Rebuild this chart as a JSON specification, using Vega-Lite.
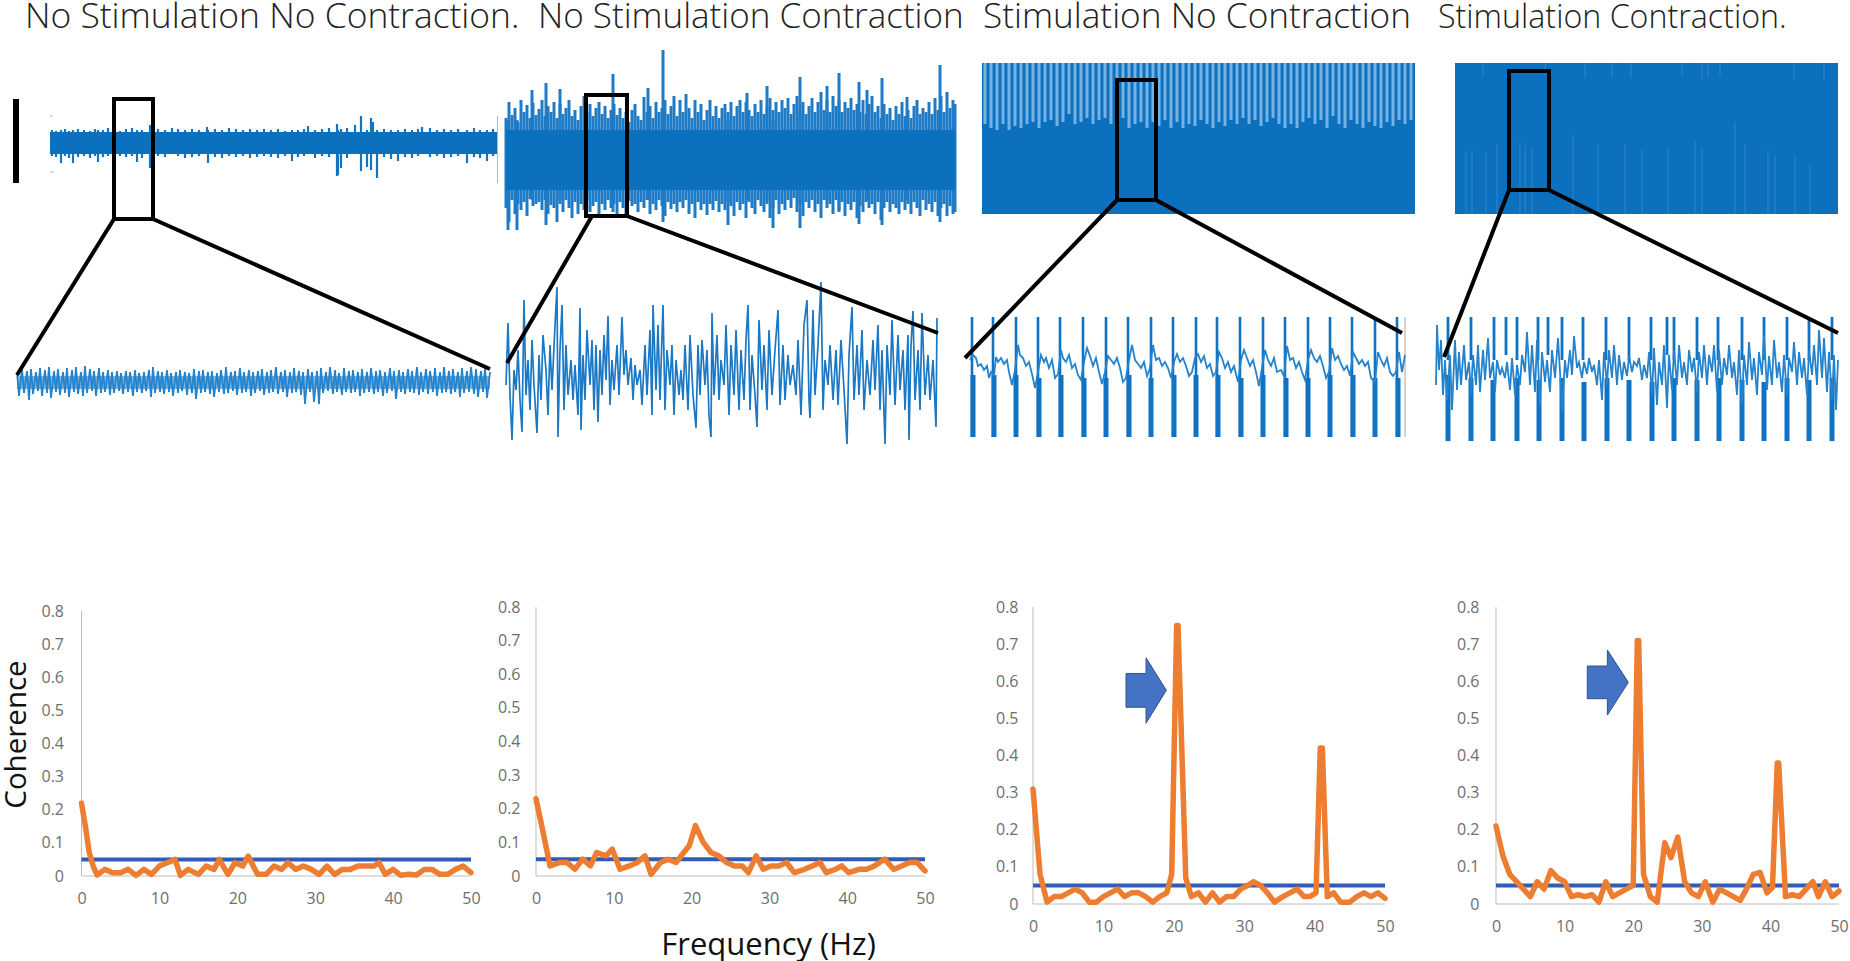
{
"$schema":"https://vega.github.io/schema/vega-lite/v5.json",
"padding":0,"background":"white","spacing":0,"bounds":"flush","align":"each","columns":4,
"config":{"view":{"stroke":null}},
"datasets":{
"band1":[{"t":50,"a":132,"a2":154},{"t":498,"a":132,"a2":154}],
"core1":[{"t":17,"a":376,"a2":389},{"t":490,"a":376,"a2":389}],
"spike1":[{"t":361,"a":116,"a2":171},{"t":371,"a":118,"a2":170},{"t":373,"a":122,"a2":150},{"t":337,"a":124,"a2":176},{"t":338,"a":130,"a2":175},{"t":341,"a":129,"a2":168},{"t":355,"a":125,"a2":150},{"t":308,"a":126,"a2":150},{"t":150,"a":125,"a2":168},{"t":207,"a":127,"a2":150},{"t":172,"a":128,"a2":150},{"t":422,"a":127,"a2":150},{"t":367,"a":130,"a2":167},{"t":377,"a":130,"a2":178},{"t":61,"a":130,"a2":163},{"t":73,"a":130,"a2":163},{"t":98,"a":130,"a2":162},{"t":137,"a":130,"a2":162},{"t":208,"a":130,"a2":163},{"t":292,"a":130,"a2":161},{"t":398,"a":130,"a2":161},{"t":467,"a":130,"a2":163},{"t":487,"a":130,"a2":161},{"t":52,"a":130,"a2":156},{"t":56,"a":131,"a2":157},{"t":65,"a":129,"a2":156},{"t":69,"a":131,"a2":158},{"t":78,"a":129,"a2":157},{"t":84,"a":130,"a2":156},{"t":90,"a":131,"a2":158},{"t":95,"a":129,"a2":156},{"t":103,"a":130,"a2":157},{"t":108,"a":128,"a2":156},{"t":114,"a":130,"a2":158},{"t":120,"a":131,"a2":156},{"t":126,"a":129,"a2":157},{"t":132,"a":128,"a2":156},{"t":142,"a":130,"a2":158},{"t":158,"a":129,"a2":156},{"t":165,"a":130,"a2":157},{"t":178,"a":129,"a2":156},{"t":185,"a":130,"a2":158},{"t":192,"a":129,"a2":157},{"t":199,"a":130,"a2":156},{"t":215,"a":129,"a2":157},{"t":222,"a":130,"a2":158},{"t":229,"a":128,"a2":156},{"t":236,"a":129,"a2":157},{"t":243,"a":130,"a2":156},{"t":250,"a":129,"a2":158},{"t":257,"a":130,"a2":157},{"t":264,"a":129,"a2":156},{"t":271,"a":130,"a2":157},{"t":278,"a":129,"a2":158},{"t":285,"a":131,"a2":156},{"t":298,"a":130,"a2":157},{"t":304,"a":129,"a2":156},{"t":315,"a":130,"a2":158},{"t":322,"a":129,"a2":156},{"t":329,"a":128,"a2":157},{"t":347,"a":128,"a2":158},{"t":384,"a":129,"a2":157},{"t":391,"a":130,"a2":159},{"t":405,"a":129,"a2":157},{"t":412,"a":130,"a2":158},{"t":418,"a":129,"a2":156},{"t":430,"a":128,"a2":157},{"t":437,"a":130,"a2":156},{"t":444,"a":129,"a2":158},{"t":451,"a":130,"a2":157},{"t":458,"a":129,"a2":156},{"t":474,"a":128,"a2":157},{"t":480,"a":130,"a2":158},{"t":493,"a":129,"a2":156}],
"zoom1":[{"t":17,"a":372},{"t":19,"a":396},{"t":22,"a":369},{"t":24,"a":393},{"t":27,"a":371},{"t":29,"a":400},{"t":31,"a":369},{"t":33,"a":394},{"t":36,"a":372},{"t":38,"a":391},{"t":40,"a":368},{"t":42,"a":396},{"t":45,"a":370},{"t":47,"a":393},{"t":49,"a":367},{"t":51,"a":398},{"t":54,"a":371},{"t":56,"a":392},{"t":58,"a":369},{"t":60,"a":395},{"t":63,"a":372},{"t":65,"a":393},{"t":67,"a":368},{"t":69,"a":397},{"t":72,"a":370},{"t":74,"a":392},{"t":76,"a":367},{"t":78,"a":394},{"t":81,"a":372},{"t":83,"a":396},{"t":85,"a":366},{"t":87,"a":393},{"t":90,"a":369},{"t":92,"a":391},{"t":94,"a":371},{"t":96,"a":396},{"t":99,"a":368},{"t":101,"a":393},{"t":103,"a":372},{"t":105,"a":392},{"t":108,"a":370},{"t":110,"a":395},{"t":112,"a":372},{"t":114,"a":393},{"t":117,"a":371},{"t":119,"a":391},{"t":121,"a":373},{"t":123,"a":394},{"t":126,"a":371},{"t":128,"a":392},{"t":130,"a":372},{"t":133,"a":396},{"t":135,"a":370},{"t":137,"a":392},{"t":139,"a":373},{"t":142,"a":393},{"t":144,"a":372},{"t":146,"a":391},{"t":149,"a":370},{"t":151,"a":397},{"t":153,"a":367},{"t":155,"a":393},{"t":158,"a":371},{"t":160,"a":392},{"t":162,"a":372},{"t":164,"a":394},{"t":167,"a":370},{"t":169,"a":392},{"t":171,"a":373},{"t":173,"a":396},{"t":176,"a":372},{"t":178,"a":393},{"t":180,"a":370},{"t":182,"a":391},{"t":185,"a":372},{"t":187,"a":395},{"t":189,"a":373},{"t":192,"a":393},{"t":194,"a":369},{"t":196,"a":399},{"t":199,"a":371},{"t":201,"a":393},{"t":203,"a":370},{"t":205,"a":392},{"t":208,"a":372},{"t":210,"a":394},{"t":212,"a":371},{"t":214,"a":397},{"t":217,"a":373},{"t":219,"a":392},{"t":221,"a":370},{"t":224,"a":394},{"t":226,"a":367},{"t":228,"a":393},{"t":231,"a":372},{"t":233,"a":391},{"t":235,"a":371},{"t":237,"a":395},{"t":240,"a":368},{"t":242,"a":393},{"t":244,"a":372},{"t":246,"a":392},{"t":249,"a":370},{"t":251,"a":396},{"t":253,"a":372},{"t":255,"a":393},{"t":258,"a":371},{"t":260,"a":391},{"t":262,"a":369},{"t":264,"a":395},{"t":267,"a":372},{"t":269,"a":393},{"t":271,"a":370},{"t":273,"a":392},{"t":276,"a":367},{"t":278,"a":394},{"t":281,"a":372},{"t":283,"a":392},{"t":285,"a":370},{"t":287,"a":397},{"t":290,"a":372},{"t":292,"a":393},{"t":294,"a":368},{"t":296,"a":392},{"t":299,"a":371},{"t":301,"a":395},{"t":303,"a":372},{"t":305,"a":404},{"t":308,"a":369},{"t":310,"a":392},{"t":312,"a":372},{"t":314,"a":402},{"t":317,"a":371},{"t":319,"a":404},{"t":321,"a":368},{"t":323,"a":393},{"t":326,"a":372},{"t":328,"a":391},{"t":330,"a":367},{"t":333,"a":394},{"t":335,"a":370},{"t":337,"a":392},{"t":339,"a":373},{"t":342,"a":395},{"t":344,"a":368},{"t":346,"a":392},{"t":349,"a":371},{"t":351,"a":393},{"t":353,"a":370},{"t":355,"a":392},{"t":358,"a":372},{"t":360,"a":396},{"t":362,"a":369},{"t":364,"a":393},{"t":367,"a":372},{"t":369,"a":392},{"t":371,"a":368},{"t":374,"a":394},{"t":376,"a":371},{"t":378,"a":392},{"t":380,"a":370},{"t":383,"a":396},{"t":385,"a":372},{"t":387,"a":393},{"t":390,"a":368},{"t":392,"a":391},{"t":394,"a":371},{"t":396,"a":399},{"t":399,"a":370},{"t":401,"a":392},{"t":403,"a":372},{"t":405,"a":394},{"t":408,"a":369},{"t":410,"a":392},{"t":412,"a":371},{"t":414,"a":393},{"t":417,"a":367},{"t":419,"a":395},{"t":421,"a":372},{"t":423,"a":392},{"t":426,"a":369},{"t":428,"a":394},{"t":430,"a":371},{"t":433,"a":392},{"t":435,"a":368},{"t":437,"a":396},{"t":440,"a":372},{"t":442,"a":393},{"t":444,"a":367},{"t":446,"a":392},{"t":449,"a":371},{"t":451,"a":394},{"t":453,"a":369},{"t":455,"a":392},{"t":458,"a":372},{"t":460,"a":397},{"t":462,"a":368},{"t":464,"a":393},{"t":467,"a":371},{"t":469,"a":392},{"t":471,"a":367},{"t":474,"a":394},{"t":476,"a":369},{"t":478,"a":397},{"t":481,"a":371},{"t":483,"a":392},{"t":485,"a":368},{"t":487,"a":398},{"t":490,"a":372}],
"band2":[{"t":506,"a":130,"a2":190},{"t":955,"a":130,"a2":190}],
"spike2":[{"t":663,"a":50,"a2":222},{"t":613,"a":74,"a2":212},{"t":546,"a":83,"a2":225},{"t":940,"a":65,"a2":222},{"t":839,"a":73,"a2":212},{"t":800,"a":77,"a2":228},{"t":859,"a":82,"a2":224},{"t":882,"a":78,"a2":225},{"t":767,"a":86,"a2":200},{"t":532,"a":90,"a2":200},{"t":560,"a":89,"a2":200},{"t":648,"a":88,"a2":200},{"t":747,"a":93,"a2":200},{"t":827,"a":86,"a2":200},{"t":867,"a":90,"a2":200},{"t":907,"a":97,"a2":200},{"t":508,"a":120,"a2":230},{"t":517,"a":120,"a2":230},{"t":728,"a":120,"a2":225},{"t":773,"a":120,"a2":228},{"t":506,"a":118,"a2":208},{"t":509,"a":102,"a2":222},{"t":512,"a":115,"a2":200},{"t":515,"a":108,"a2":214},{"t":518,"a":122,"a2":204},{"t":521,"a":100,"a2":210},{"t":524,"a":112,"a2":202},{"t":527,"a":105,"a2":216},{"t":530,"a":118,"a2":199},{"t":533,"a":103,"a2":206},{"t":536,"a":115,"a2":204},{"t":539,"a":109,"a2":202},{"t":542,"a":100,"a2":210},{"t":545,"a":116,"a2":200},{"t":548,"a":106,"a2":214},{"t":551,"a":112,"a2":205},{"t":554,"a":102,"a2":208},{"t":557,"a":118,"a2":222},{"t":560,"a":104,"a2":204},{"t":563,"a":114,"a2":212},{"t":566,"a":108,"a2":200},{"t":569,"a":100,"a2":208},{"t":572,"a":116,"a2":218},{"t":575,"a":110,"a2":202},{"t":578,"a":120,"a2":214},{"t":581,"a":106,"a2":204},{"t":584,"a":96,"a2":210},{"t":587,"a":112,"a2":200},{"t":590,"a":104,"a2":212},{"t":593,"a":116,"a2":206},{"t":596,"a":108,"a2":202},{"t":599,"a":102,"a2":216},{"t":602,"a":114,"a2":204},{"t":605,"a":106,"a2":210},{"t":608,"a":118,"a2":200},{"t":611,"a":110,"a2":208},{"t":614,"a":104,"a2":204},{"t":617,"a":115,"a2":214},{"t":620,"a":108,"a2":202},{"t":623,"a":118,"a2":208},{"t":626,"a":112,"a2":216},{"t":629,"a":122,"a2":201},{"t":632,"a":110,"a2":206},{"t":635,"a":104,"a2":204},{"t":638,"a":116,"a2":212},{"t":641,"a":120,"a2":202},{"t":644,"a":97,"a2":208},{"t":647,"a":112,"a2":200},{"t":650,"a":106,"a2":214},{"t":653,"a":118,"a2":204},{"t":656,"a":102,"a2":210},{"t":659,"a":112,"a2":200},{"t":662,"a":108,"a2":206},{"t":665,"a":100,"a2":216},{"t":668,"a":114,"a2":202},{"t":671,"a":106,"a2":209},{"t":674,"a":96,"a2":204},{"t":677,"a":116,"a2":212},{"t":680,"a":100,"a2":202},{"t":683,"a":112,"a2":208},{"t":686,"a":94,"a2":200},{"t":689,"a":108,"a2":214},{"t":692,"a":118,"a2":204},{"t":695,"a":100,"a2":218},{"t":698,"a":112,"a2":202},{"t":701,"a":104,"a2":210},{"t":704,"a":120,"a2":204},{"t":707,"a":110,"a2":215},{"t":710,"a":100,"a2":204},{"t":713,"a":116,"a2":210},{"t":716,"a":106,"a2":201},{"t":719,"a":118,"a2":212},{"t":722,"a":108,"a2":204},{"t":725,"a":104,"a2":210},{"t":728,"a":112,"a2":202},{"t":731,"a":102,"a2":206},{"t":734,"a":116,"a2":216},{"t":737,"a":106,"a2":202},{"t":740,"a":100,"a2":210},{"t":743,"a":112,"a2":204},{"t":746,"a":102,"a2":218},{"t":749,"a":110,"a2":202},{"t":752,"a":116,"a2":208},{"t":755,"a":104,"a2":214},{"t":758,"a":112,"a2":200},{"t":761,"a":100,"a2":206},{"t":764,"a":114,"a2":212},{"t":767,"a":106,"a2":204},{"t":770,"a":98,"a2":218},{"t":773,"a":110,"a2":208},{"t":776,"a":102,"a2":200},{"t":779,"a":112,"a2":214},{"t":782,"a":100,"a2":204},{"t":785,"a":108,"a2":210},{"t":788,"a":98,"a2":200},{"t":791,"a":114,"a2":208},{"t":794,"a":104,"a2":198},{"t":797,"a":96,"a2":212},{"t":800,"a":110,"a2":204},{"t":803,"a":102,"a2":216},{"t":806,"a":114,"a2":202},{"t":809,"a":106,"a2":208},{"t":812,"a":98,"a2":200},{"t":815,"a":112,"a2":212},{"t":818,"a":102,"a2":204},{"t":821,"a":92,"a2":218},{"t":824,"a":110,"a2":200},{"t":827,"a":100,"a2":208},{"t":830,"a":112,"a2":204},{"t":833,"a":96,"a2":214},{"t":836,"a":106,"a2":200},{"t":839,"a":100,"a2":210},{"t":842,"a":112,"a2":202},{"t":845,"a":102,"a2":216},{"t":848,"a":108,"a2":204},{"t":851,"a":98,"a2":210},{"t":854,"a":110,"a2":202},{"t":857,"a":104,"a2":218},{"t":860,"a":112,"a2":206},{"t":863,"a":100,"a2":212},{"t":866,"a":114,"a2":202},{"t":869,"a":104,"a2":208},{"t":872,"a":96,"a2":204},{"t":875,"a":112,"a2":214},{"t":878,"a":106,"a2":202},{"t":881,"a":118,"a2":220},{"t":884,"a":104,"a2":208},{"t":887,"a":114,"a2":202},{"t":890,"a":108,"a2":212},{"t":893,"a":120,"a2":204},{"t":896,"a":106,"a2":208},{"t":899,"a":114,"a2":214},{"t":902,"a":102,"a2":202},{"t":905,"a":116,"a2":210},{"t":908,"a":110,"a2":204},{"t":911,"a":118,"a2":214},{"t":914,"a":106,"a2":202},{"t":917,"a":100,"a2":208},{"t":920,"a":114,"a2":216},{"t":923,"a":108,"a2":200},{"t":926,"a":112,"a2":210},{"t":929,"a":102,"a2":204},{"t":932,"a":114,"a2":212},{"t":935,"a":98,"a2":202},{"t":938,"a":110,"a2":216},{"t":941,"a":96,"a2":208},{"t":944,"a":112,"a2":204},{"t":947,"a":92,"a2":216},{"t":950,"a":108,"a2":206},{"t":953,"a":100,"a2":214},{"t":955,"a":104,"a2":212}],
"zoom2":[{"t":506,"a":385},{"t":508,"a":323},{"t":510,"a":395},{"t":512,"a":440},{"t":514,"a":370},{"t":516,"a":390},{"t":518,"a":350},{"t":520,"a":400},{"t":522,"a":432},{"t":524,"a":300},{"t":526,"a":395},{"t":528,"a":360},{"t":530,"a":410},{"t":532,"a":340},{"t":534,"a":385},{"t":537,"a":433},{"t":539,"a":355},{"t":541,"a":400},{"t":543,"a":335},{"t":546,"a":370},{"t":548,"a":415},{"t":550,"a":345},{"t":552,"a":390},{"t":555,"a":325},{"t":557,"a":287},{"t":558,"a":437},{"t":560,"a":350},{"t":562,"a":305},{"t":564,"a":410},{"t":566,"a":345},{"t":568,"a":395},{"t":571,"a":360},{"t":573,"a":400},{"t":575,"a":365},{"t":578,"a":415},{"t":580,"a":308},{"t":581,"a":430},{"t":583,"a":355},{"t":585,"a":400},{"t":587,"a":330},{"t":590,"a":385},{"t":592,"a":340},{"t":594,"a":410},{"t":596,"a":345},{"t":598,"a":422},{"t":600,"a":350},{"t":602,"a":395},{"t":604,"a":335},{"t":606,"a":380},{"t":608,"a":316},{"t":610,"a":405},{"t":612,"a":360},{"t":614,"a":390},{"t":617,"a":345},{"t":619,"a":395},{"t":622,"a":317},{"t":624,"a":375},{"t":626,"a":350},{"t":628,"a":385},{"t":631,"a":358},{"t":633,"a":400},{"t":635,"a":365},{"t":637,"a":385},{"t":640,"a":370},{"t":642,"a":405},{"t":645,"a":345},{"t":647,"a":395},{"t":650,"a":330},{"t":652,"a":415},{"t":653,"a":305},{"t":656,"a":390},{"t":658,"a":325},{"t":660,"a":400},{"t":663,"a":305},{"t":665,"a":410},{"t":667,"a":350},{"t":670,"a":385},{"t":672,"a":345},{"t":674,"a":415},{"t":676,"a":360},{"t":679,"a":395},{"t":681,"a":370},{"t":683,"a":400},{"t":685,"a":345},{"t":688,"a":410},{"t":690,"a":335},{"t":693,"a":395},{"t":696,"a":428},{"t":698,"a":345},{"t":700,"a":395},{"t":702,"a":340},{"t":705,"a":385},{"t":707,"a":350},{"t":709,"a":415},{"t":711,"a":437},{"t":712,"a":313},{"t":714,"a":395},{"t":717,"a":335},{"t":719,"a":400},{"t":721,"a":360},{"t":724,"a":385},{"t":726,"a":325},{"t":729,"a":415},{"t":731,"a":345},{"t":734,"a":395},{"t":736,"a":330},{"t":739,"a":410},{"t":741,"a":350},{"t":744,"a":400},{"t":746,"a":340},{"t":748,"a":305},{"t":750,"a":410},{"t":752,"a":355},{"t":755,"a":395},{"t":757,"a":427},{"t":759,"a":320},{"t":762,"a":390},{"t":764,"a":345},{"t":767,"a":410},{"t":769,"a":330},{"t":772,"a":395},{"t":775,"a":350},{"t":778,"a":310},{"t":780,"a":405},{"t":783,"a":345},{"t":785,"a":400},{"t":788,"a":355},{"t":790,"a":385},{"t":793,"a":365},{"t":796,"a":395},{"t":798,"a":340},{"t":801,"a":415},{"t":804,"a":325},{"t":807,"a":300},{"t":809,"a":400},{"t":810,"a":418},{"t":813,"a":310},{"t":815,"a":395},{"t":818,"a":345},{"t":821,"a":282},{"t":823,"a":410},{"t":825,"a":360},{"t":828,"a":385},{"t":830,"a":345},{"t":833,"a":400},{"t":836,"a":350},{"t":838,"a":405},{"t":841,"a":340},{"t":844,"a":390},{"t":847,"a":444},{"t":849,"a":355},{"t":852,"a":307},{"t":854,"a":400},{"t":857,"a":345},{"t":859,"a":395},{"t":862,"a":330},{"t":864,"a":410},{"t":867,"a":360},{"t":870,"a":395},{"t":873,"a":340},{"t":875,"a":390},{"t":878,"a":325},{"t":880,"a":410},{"t":882,"a":350},{"t":885,"a":444},{"t":887,"a":345},{"t":890,"a":395},{"t":892,"a":320},{"t":895,"a":405},{"t":898,"a":335},{"t":900,"a":390},{"t":903,"a":350},{"t":905,"a":410},{"t":908,"a":335},{"t":909,"a":440},{"t":911,"a":345},{"t":913,"a":311},{"t":915,"a":400},{"t":918,"a":350},{"t":920,"a":410},{"t":922,"a":313},{"t":925,"a":395},{"t":928,"a":355},{"t":930,"a":400},{"t":933,"a":360},{"t":935,"a":405},{"t":936,"a":427},{"t":937,"a":318}],
"band3":[{"t":982,"a":63,"a2":214},{"t":1415,"a":63,"a2":214}],
"spike3":[{"t":985,"a":63,"a2":124},{"t":991,"a":63,"a2":128},{"t":997,"a":63,"a2":130},{"t":1003,"a":63,"a2":124},{"t":1009,"a":63,"a2":130},{"t":1015,"a":63,"a2":126},{"t":1021,"a":63,"a2":128},{"t":1027,"a":63,"a2":124},{"t":1033,"a":63,"a2":122},{"t":1039,"a":63,"a2":128},{"t":1045,"a":63,"a2":122},{"t":1051,"a":63,"a2":120},{"t":1057,"a":63,"a2":126},{"t":1063,"a":63,"a2":122},{"t":1069,"a":63,"a2":114},{"t":1075,"a":63,"a2":124},{"t":1081,"a":63,"a2":122},{"t":1087,"a":63,"a2":118},{"t":1093,"a":63,"a2":124},{"t":1099,"a":63,"a2":120},{"t":1105,"a":63,"a2":118},{"t":1111,"a":63,"a2":124},{"t":1117,"a":63,"a2":126},{"t":1123,"a":63,"a2":118},{"t":1129,"a":63,"a2":128},{"t":1135,"a":63,"a2":124},{"t":1141,"a":63,"a2":122},{"t":1147,"a":63,"a2":128},{"t":1153,"a":63,"a2":122},{"t":1159,"a":63,"a2":126},{"t":1165,"a":63,"a2":120},{"t":1171,"a":63,"a2":128},{"t":1177,"a":63,"a2":122},{"t":1183,"a":63,"a2":128},{"t":1189,"a":63,"a2":124},{"t":1195,"a":63,"a2":126},{"t":1201,"a":63,"a2":120},{"t":1207,"a":63,"a2":124},{"t":1213,"a":63,"a2":128},{"t":1219,"a":63,"a2":122},{"t":1225,"a":63,"a2":126},{"t":1231,"a":63,"a2":120},{"t":1237,"a":63,"a2":124},{"t":1243,"a":63,"a2":118},{"t":1249,"a":63,"a2":124},{"t":1255,"a":63,"a2":120},{"t":1261,"a":63,"a2":126},{"t":1267,"a":63,"a2":122},{"t":1273,"a":63,"a2":118},{"t":1279,"a":63,"a2":124},{"t":1285,"a":63,"a2":128},{"t":1291,"a":63,"a2":124},{"t":1297,"a":63,"a2":128},{"t":1303,"a":63,"a2":122},{"t":1309,"a":63,"a2":118},{"t":1315,"a":63,"a2":124},{"t":1321,"a":63,"a2":120},{"t":1327,"a":63,"a2":128},{"t":1333,"a":63,"a2":116},{"t":1339,"a":63,"a2":124},{"t":1345,"a":63,"a2":128},{"t":1351,"a":63,"a2":120},{"t":1357,"a":63,"a2":124},{"t":1363,"a":63,"a2":128},{"t":1369,"a":63,"a2":122},{"t":1375,"a":63,"a2":126},{"t":1381,"a":63,"a2":128},{"t":1387,"a":63,"a2":122},{"t":1393,"a":63,"a2":126},{"t":1399,"a":63,"a2":120},{"t":1405,"a":63,"a2":124},{"t":1411,"a":63,"a2":120}],
"pulse3":[{"t":972,"a":317,"a2":437},{"t":993,"a":317,"a2":437},{"t":1016,"a":317,"a2":437},{"t":1038,"a":317,"a2":437},{"t":1060,"a":317,"a2":437},{"t":1083,"a":317,"a2":437},{"t":1106,"a":317,"a2":437},{"t":1128,"a":317,"a2":437},{"t":1151,"a":317,"a2":437},{"t":1173,"a":317,"a2":437},{"t":1196,"a":317,"a2":437},{"t":1217,"a":317,"a2":437},{"t":1240,"a":317,"a2":437},{"t":1263,"a":317,"a2":437},{"t":1285,"a":317,"a2":437},{"t":1308,"a":317,"a2":437},{"t":1330,"a":317,"a2":437},{"t":1352,"a":317,"a2":437},{"t":1375,"a":317,"a2":437},{"t":1397,"a":317,"a2":437}],
"low3":[{"t":973,"a":375,"a2":437},{"t":994,"a":375,"a2":437},{"t":1016,"a":375,"a2":437},{"t":1039,"a":378,"a2":437},{"t":1061,"a":375,"a2":437},{"t":1084,"a":378,"a2":437},{"t":1106,"a":378,"a2":437},{"t":1129,"a":375,"a2":437},{"t":1151,"a":378,"a2":437},{"t":1174,"a":375,"a2":437},{"t":1196,"a":375,"a2":437},{"t":1218,"a":375,"a2":437},{"t":1241,"a":378,"a2":437},{"t":1263,"a":375,"a2":437},{"t":1286,"a":378,"a2":437},{"t":1308,"a":378,"a2":437},{"t":1330,"a":375,"a2":437},{"t":1353,"a":375,"a2":437},{"t":1375,"a":378,"a2":437},{"t":1398,"a":378,"a2":437}],
"zoom3":[{"t":970,"a":360},{"t":973,"a":355},{"t":976,"a":358},{"t":978,"a":366},{"t":981,"a":364},{"t":984,"a":370},{"t":987,"a":366},{"t":989,"a":378},{"t":991,"a":372},{"t":994,"a":376},{"t":996,"a":357},{"t":998,"a":362},{"t":1001,"a":358},{"t":1004,"a":364},{"t":1007,"a":360},{"t":1009,"a":372},{"t":1012,"a":385},{"t":1015,"a":370},{"t":1018,"a":345},{"t":1020,"a":355},{"t":1023,"a":358},{"t":1026,"a":366},{"t":1029,"a":362},{"t":1032,"a":374},{"t":1035,"a":388},{"t":1038,"a":372},{"t":1041,"a":355},{"t":1044,"a":362},{"t":1046,"a":358},{"t":1049,"a":368},{"t":1052,"a":360},{"t":1055,"a":378},{"t":1058,"a":374},{"t":1061,"a":350},{"t":1063,"a":358},{"t":1066,"a":362},{"t":1069,"a":355},{"t":1072,"a":368},{"t":1075,"a":364},{"t":1078,"a":375},{"t":1081,"a":380},{"t":1084,"a":362},{"t":1087,"a":348},{"t":1090,"a":356},{"t":1093,"a":366},{"t":1096,"a":358},{"t":1099,"a":372},{"t":1102,"a":384},{"t":1105,"a":372},{"t":1108,"a":356},{"t":1111,"a":360},{"t":1114,"a":364},{"t":1117,"a":358},{"t":1120,"a":368},{"t":1123,"a":382},{"t":1126,"a":378},{"t":1129,"a":360},{"t":1132,"a":345},{"t":1135,"a":360},{"t":1138,"a":364},{"t":1141,"a":368},{"t":1144,"a":362},{"t":1147,"a":376},{"t":1150,"a":368},{"t":1153,"a":345},{"t":1156,"a":360},{"t":1159,"a":358},{"t":1162,"a":366},{"t":1165,"a":362},{"t":1168,"a":368},{"t":1171,"a":378},{"t":1174,"a":362},{"t":1177,"a":354},{"t":1180,"a":362},{"t":1183,"a":358},{"t":1186,"a":366},{"t":1189,"a":376},{"t":1192,"a":372},{"t":1195,"a":358},{"t":1198,"a":354},{"t":1201,"a":362},{"t":1204,"a":356},{"t":1207,"a":368},{"t":1210,"a":364},{"t":1213,"a":376},{"t":1216,"a":372},{"t":1219,"a":352},{"t":1222,"a":358},{"t":1225,"a":368},{"t":1228,"a":362},{"t":1231,"a":372},{"t":1234,"a":366},{"t":1238,"a":382},{"t":1241,"a":360},{"t":1244,"a":350},{"t":1247,"a":358},{"t":1250,"a":366},{"t":1253,"a":360},{"t":1256,"a":372},{"t":1259,"a":386},{"t":1262,"a":368},{"t":1265,"a":350},{"t":1268,"a":360},{"t":1271,"a":366},{"t":1274,"a":358},{"t":1277,"a":372},{"t":1281,"a":370},{"t":1284,"a":376},{"t":1287,"a":346},{"t":1290,"a":360},{"t":1293,"a":358},{"t":1296,"a":368},{"t":1299,"a":362},{"t":1302,"a":372},{"t":1305,"a":380},{"t":1308,"a":360},{"t":1311,"a":350},{"t":1314,"a":358},{"t":1317,"a":362},{"t":1320,"a":356},{"t":1323,"a":366},{"t":1326,"a":378},{"t":1329,"a":372},{"t":1332,"a":348},{"t":1335,"a":360},{"t":1338,"a":356},{"t":1341,"a":364},{"t":1344,"a":370},{"t":1347,"a":366},{"t":1350,"a":376},{"t":1353,"a":352},{"t":1356,"a":358},{"t":1359,"a":364},{"t":1362,"a":360},{"t":1365,"a":366},{"t":1368,"a":362},{"t":1371,"a":378},{"t":1375,"a":382},{"t":1378,"a":352},{"t":1381,"a":360},{"t":1384,"a":366},{"t":1387,"a":358},{"t":1390,"a":372},{"t":1393,"a":376},{"t":1396,"a":372},{"t":1399,"a":352},{"t":1402,"a":372},{"t":1405,"a":355}],
"faint1":[{"t":497.5,"t2":497.5,"a":116,"a2":183},{"t":50,"t2":53,"a":116,"a2":116},{"t":50,"t2":54,"a":172,"a2":172}],
"faint3":[{"t":1405,"t2":1405,"a":317,"a2":437}],
"band4":[{"t":1455,"a":63,"a2":214},{"t":1838,"a":63,"a2":214}],
"spike4":[{"t":1466,"a":152,"a2":214},{"t":1472,"a":150,"a2":214},{"t":1486,"a":152,"a2":214},{"t":1497,"a":145,"a2":214},{"t":1520,"a":143,"a2":214},{"t":1525,"a":145,"a2":214},{"t":1532,"a":148,"a2":214},{"t":1573,"a":135,"a2":214},{"t":1598,"a":145,"a2":214},{"t":1625,"a":145,"a2":214},{"t":1642,"a":150,"a2":214},{"t":1668,"a":148,"a2":214},{"t":1695,"a":140,"a2":214},{"t":1702,"a":148,"a2":214},{"t":1735,"a":122,"a2":214},{"t":1702,"a":63,"a2":80},{"t":1745,"a":145,"a2":214},{"t":1768,"a":150,"a2":214},{"t":1775,"a":155,"a2":214},{"t":1795,"a":155,"a2":214},{"t":1810,"a":165,"a2":214},{"t":1483,"a":63,"a2":76},{"t":1545,"a":63,"a2":74},{"t":1585,"a":63,"a2":78},{"t":1612,"a":63,"a2":78},{"t":1631,"a":63,"a2":78},{"t":1682,"a":63,"a2":76},{"t":1708,"a":63,"a2":78},{"t":1720,"a":63,"a2":76},{"t":1794,"a":63,"a2":80},{"t":1824,"a":63,"a2":80}],
"pulse4":[{"t":1448,"a":317,"a2":360},{"t":1471,"a":317,"a2":360},{"t":1494,"a":317,"a2":360},{"t":1506,"a":317,"a2":355},{"t":1517,"a":317,"a2":360},{"t":1538,"a":317,"a2":360},{"t":1548,"a":317,"a2":355},{"t":1562,"a":317,"a2":360},{"t":1583,"a":317,"a2":360},{"t":1606,"a":317,"a2":360},{"t":1629,"a":317,"a2":360},{"t":1651,"a":317,"a2":360},{"t":1667,"a":317,"a2":355},{"t":1674,"a":317,"a2":360},{"t":1697,"a":317,"a2":360},{"t":1718,"a":317,"a2":360},{"t":1742,"a":317,"a2":360},{"t":1764,"a":317,"a2":360},{"t":1787,"a":317,"a2":360},{"t":1809,"a":317,"a2":360},{"t":1832,"a":317,"a2":360}],
"low4":[{"t":1448,"a":375,"a2":441},{"t":1471,"a":378,"a2":441},{"t":1493,"a":380,"a2":441},{"t":1517,"a":378,"a2":441},{"t":1539,"a":380,"a2":441},{"t":1562,"a":378,"a2":441},{"t":1584,"a":382,"a2":441},{"t":1607,"a":378,"a2":441},{"t":1629,"a":380,"a2":441},{"t":1652,"a":382,"a2":441},{"t":1674,"a":378,"a2":441},{"t":1697,"a":380,"a2":441},{"t":1719,"a":378,"a2":441},{"t":1742,"a":380,"a2":441},{"t":1764,"a":382,"a2":441},{"t":1787,"a":378,"a2":441},{"t":1809,"a":380,"a2":441},{"t":1832,"a":378,"a2":441}],
"zoom4":[{"t":1436,"a":385},{"t":1437,"a":325},{"t":1439,"a":370},{"t":1441,"a":340},{"t":1443,"a":395},{"t":1445,"a":360},{"t":1447,"a":400},{"t":1450,"a":355},{"t":1452,"a":410},{"t":1455,"a":340},{"t":1457,"a":390},{"t":1459,"a":352},{"t":1461,"a":385},{"t":1464,"a":345},{"t":1466,"a":380},{"t":1469,"a":362},{"t":1471,"a":395},{"t":1473,"a":355},{"t":1476,"a":385},{"t":1478,"a":345},{"t":1480,"a":392},{"t":1483,"a":350},{"t":1485,"a":380},{"t":1488,"a":338},{"t":1490,"a":378},{"t":1493,"a":362},{"t":1495,"a":392},{"t":1497,"a":360},{"t":1500,"a":375},{"t":1502,"a":368},{"t":1505,"a":378},{"t":1507,"a":362},{"t":1510,"a":390},{"t":1512,"a":358},{"t":1515,"a":395},{"t":1517,"a":365},{"t":1520,"a":385},{"t":1522,"a":355},{"t":1525,"a":372},{"t":1527,"a":332},{"t":1530,"a":385},{"t":1532,"a":345},{"t":1535,"a":392},{"t":1537,"a":340},{"t":1540,"a":405},{"t":1542,"a":352},{"t":1545,"a":382},{"t":1547,"a":360},{"t":1550,"a":392},{"t":1552,"a":350},{"t":1555,"a":378},{"t":1558,"a":338},{"t":1560,"a":372},{"t":1562,"a":412},{"t":1565,"a":360},{"t":1567,"a":378},{"t":1570,"a":350},{"t":1572,"a":375},{"t":1574,"a":336},{"t":1577,"a":368},{"t":1579,"a":362},{"t":1582,"a":378},{"t":1584,"a":362},{"t":1587,"a":374},{"t":1589,"a":358},{"t":1592,"a":372},{"t":1594,"a":365},{"t":1597,"a":385},{"t":1599,"a":360},{"t":1602,"a":400},{"t":1604,"a":352},{"t":1607,"a":385},{"t":1609,"a":350},{"t":1612,"a":378},{"t":1614,"a":345},{"t":1617,"a":385},{"t":1619,"a":355},{"t":1622,"a":380},{"t":1624,"a":362},{"t":1627,"a":376},{"t":1629,"a":356},{"t":1632,"a":372},{"t":1634,"a":362},{"t":1637,"a":366},{"t":1639,"a":358},{"t":1642,"a":380},{"t":1644,"a":365},{"t":1647,"a":378},{"t":1649,"a":352},{"t":1652,"a":395},{"t":1654,"a":348},{"t":1657,"a":405},{"t":1659,"a":362},{"t":1662,"a":385},{"t":1664,"a":345},{"t":1667,"a":408},{"t":1669,"a":355},{"t":1672,"a":390},{"t":1674,"a":350},{"t":1677,"a":385},{"t":1679,"a":345},{"t":1682,"a":378},{"t":1684,"a":362},{"t":1687,"a":385},{"t":1689,"a":350},{"t":1692,"a":372},{"t":1694,"a":358},{"t":1697,"a":392},{"t":1699,"a":352},{"t":1702,"a":378},{"t":1704,"a":345},{"t":1707,"a":385},{"t":1709,"a":355},{"t":1712,"a":372},{"t":1714,"a":345},{"t":1717,"a":392},{"t":1719,"a":350},{"t":1722,"a":385},{"t":1724,"a":358},{"t":1727,"a":375},{"t":1729,"a":345},{"t":1732,"a":378},{"t":1734,"a":362},{"t":1737,"a":395},{"t":1739,"a":350},{"t":1742,"a":405},{"t":1744,"a":355},{"t":1747,"a":385},{"t":1749,"a":342},{"t":1752,"a":380},{"t":1754,"a":358},{"t":1757,"a":395},{"t":1759,"a":352},{"t":1762,"a":375},{"t":1764,"a":335},{"t":1767,"a":390},{"t":1769,"a":356},{"t":1772,"a":385},{"t":1774,"a":340},{"t":1777,"a":378},{"t":1779,"a":362},{"t":1782,"a":392},{"t":1784,"a":355},{"t":1787,"a":395},{"t":1789,"a":358},{"t":1792,"a":372},{"t":1794,"a":342},{"t":1797,"a":385},{"t":1799,"a":352},{"t":1802,"a":378},{"t":1804,"a":358},{"t":1807,"a":395},{"t":1809,"a":350},{"t":1812,"a":375},{"t":1814,"a":345},{"t":1817,"a":385},{"t":1819,"a":330},{"t":1822,"a":378},{"t":1824,"a":338},{"t":1827,"a":392},{"t":1829,"a":352},{"t":1832,"a":400},{"t":1834,"a":355},{"t":1836,"a":410},{"t":1838,"a":360}],
"c1":[{"f":0,"c":0.22},{"f":0.5,"c":0.15},{"f":1,"c":0.07},{"f":1.5,"c":0.03},{"f":2,"c":0.003},{"f":3,"c":0.02},{"f":4,"c":0.01},{"f":5,"c":0.01},{"f":6,"c":0.02},{"f":7,"c":0.002},{"f":8,"c":0.02},{"f":9,"c":0.005},{"f":10,"c":0.03},{"f":11,"c":0.04},{"f":12,"c":0.05},{"f":12.7,"c":0.002},{"f":13.7,"c":0.02},{"f":15,"c":0.005},{"f":16,"c":0.03},{"f":17,"c":0.02},{"f":17.7,"c":0.05},{"f":18.8,"c":0.005},{"f":19.7,"c":0.04},{"f":20.7,"c":0.03},{"f":21.4,"c":0.06},{"f":22.6,"c":0.005},{"f":23.7,"c":0.005},{"f":24.7,"c":0.03},{"f":25.7,"c":0.02},{"f":26.5,"c":0.04},{"f":27.5,"c":0.02},{"f":28.5,"c":0.03},{"f":29.5,"c":0.02},{"f":30.5,"c":0.005},{"f":31.5,"c":0.03},{"f":32.5,"c":0.005},{"f":33.5,"c":0.02},{"f":34.5,"c":0.02},{"f":35.5,"c":0.03},{"f":36.5,"c":0.03},{"f":37.5,"c":0.03},{"f":38.2,"c":0.04},{"f":39,"c":0.005},{"f":40,"c":0.02},{"f":41,"c":0.002},{"f":42,"c":0.005},{"f":43,"c":0.003},{"f":44,"c":0.02},{"f":45,"c":0.02},{"f":46,"c":0.005},{"f":47,"c":0.005},{"f":48,"c":0.02},{"f":49,"c":0.03},{"f":50,"c":0.01}],
"c2":[{"f":0,"c":0.23},{"f":1,"c":0.12},{"f":1.8,"c":0.03},{"f":3,"c":0.04},{"f":4,"c":0.04},{"f":5,"c":0.02},{"f":6,"c":0.05},{"f":7,"c":0.03},{"f":7.8,"c":0.07},{"f":9,"c":0.06},{"f":9.8,"c":0.08},{"f":10.8,"c":0.02},{"f":12,"c":0.03},{"f":13,"c":0.04},{"f":14,"c":0.06},{"f":14.8,"c":0.005},{"f":16,"c":0.04},{"f":17,"c":0.05},{"f":18,"c":0.04},{"f":19,"c":0.07},{"f":19.7,"c":0.09},{"f":20.5,"c":0.15},{"f":21.5,"c":0.1},{"f":22.5,"c":0.07},{"f":23.5,"c":0.06},{"f":24.5,"c":0.04},{"f":25.5,"c":0.03},{"f":26.5,"c":0.03},{"f":27.3,"c":0.01},{"f":28.3,"c":0.06},{"f":29.2,"c":0.02},{"f":30.2,"c":0.03},{"f":31.2,"c":0.03},{"f":32.2,"c":0.04},{"f":33.2,"c":0.01},{"f":34.5,"c":0.02},{"f":35.5,"c":0.03},{"f":36.5,"c":0.04},{"f":37.3,"c":0.01},{"f":38.5,"c":0.02},{"f":39.3,"c":0.03},{"f":40.2,"c":0.01},{"f":41.5,"c":0.02},{"f":42.5,"c":0.02},{"f":43.5,"c":0.03},{"f":44.8,"c":0.05},{"f":46,"c":0.02},{"f":47,"c":0.03},{"f":48,"c":0.04},{"f":49,"c":0.04},{"f":50,"c":0.015}],
"c3":[{"f":0,"c":0.31},{"f":1,"c":0.08},{"f":2,"c":0.005},{"f":3,"c":0.02},{"f":4,"c":0.02},{"f":5,"c":0.03},{"f":6,"c":0.04},{"f":7,"c":0.03},{"f":8,"c":0.005},{"f":9,"c":0.005},{"f":10,"c":0.02},{"f":11,"c":0.03},{"f":12,"c":0.04},{"f":13,"c":0.02},{"f":14,"c":0.03},{"f":15,"c":0.03},{"f":16,"c":0.02},{"f":17,"c":0.005},{"f":18,"c":0.02},{"f":19,"c":0.03},{"f":19.7,"c":0.08},{"f":20.4,"c":0.75},{"f":20.6,"c":0.75},{"f":21.7,"c":0.07},{"f":22.5,"c":0.02},{"f":23.5,"c":0.03},{"f":24.5,"c":0.005},{"f":25.5,"c":0.03},{"f":26.5,"c":0.005},{"f":27.5,"c":0.02},{"f":28.5,"c":0.02},{"f":29.5,"c":0.04},{"f":30.5,"c":0.05},{"f":31.3,"c":0.06},{"f":32.3,"c":0.05},{"f":33.3,"c":0.03},{"f":34.3,"c":0.005},{"f":35.5,"c":0.02},{"f":36.5,"c":0.03},{"f":37.5,"c":0.04},{"f":38.5,"c":0.02},{"f":39.3,"c":0.02},{"f":40.2,"c":0.03},{"f":40.8,"c":0.42},{"f":41.1,"c":0.42},{"f":41.8,"c":0.02},{"f":42.7,"c":0.03},{"f":43.7,"c":0.005},{"f":45,"c":0.005},{"f":46,"c":0.02},{"f":47,"c":0.03},{"f":48,"c":0.02},{"f":49,"c":0.03},{"f":50,"c":0.015}],
"c4":[{"f":0,"c":0.21},{"f":1,"c":0.13},{"f":2,"c":0.08},{"f":3,"c":0.06},{"f":4,"c":0.04},{"f":5,"c":0.02},{"f":6,"c":0.06},{"f":7,"c":0.04},{"f":8,"c":0.09},{"f":9,"c":0.07},{"f":10,"c":0.06},{"f":11,"c":0.02},{"f":12,"c":0.025},{"f":13,"c":0.02},{"f":14,"c":0.025},{"f":15,"c":0.005},{"f":16,"c":0.06},{"f":17,"c":0.02},{"f":18,"c":0.03},{"f":19,"c":0.04},{"f":20,"c":0.05},{"f":20.6,"c":0.71},{"f":20.8,"c":0.71},{"f":21.5,"c":0.08},{"f":22.5,"c":0.02},{"f":23.5,"c":0.005},{"f":24.6,"c":0.165},{"f":25.5,"c":0.125},{"f":26.5,"c":0.18},{"f":27.5,"c":0.06},{"f":28.5,"c":0.03},{"f":29.5,"c":0.02},{"f":30.5,"c":0.06},{"f":31.6,"c":0.005},{"f":32.6,"c":0.04},{"f":33.6,"c":0.03},{"f":34.6,"c":0.02},{"f":35.6,"c":0.01},{"f":36.5,"c":0.04},{"f":37.5,"c":0.08},{"f":38.5,"c":0.085},{"f":39.5,"c":0.03},{"f":40.3,"c":0.045},{"f":41,"c":0.38},{"f":41.2,"c":0.38},{"f":42.2,"c":0.02},{"f":43.2,"c":0.025},{"f":44.2,"c":0.02},{"f":45.2,"c":0.04},{"f":46.2,"c":0.06},{"f":47,"c":0.02},{"f":48,"c":0.06},{"f":49,"c":0.02},{"f":50,"c":0.035}],
"vaxis":[{"f":0,"c":0,"c2":0.8}],
"haxis":[{"f":0,"f2":50,"c":0}],
"sig":[{"f":0,"f2":50,"c":0.05}],
"arrow3":[{"f":13.21,"c":0.53,"c2":0.621},{"f":16.05,"c":0.53,"c2":0.621},{"f":16.06,"c":0.487,"c2":0.663},{"f":18.94,"c":0.576,"c2":0.576}],
"arrow4":[{"f":13.31,"c":0.553,"c2":0.641},{"f":16.23,"c":0.553,"c2":0.641},{"f":16.24,"c":0.509,"c2":0.684},{"f":19.29,"c":0.597,"c2":0.597}]
},
"concat":[
{"width":502,"height":590,
"encoding":{"x":{"field":"t","type":"quantitative","scale":{"domain":[0,502],"nice":false,"zero":false},"axis":null},"y":{"field":"a","type":"quantitative","scale":{"domain":[590,0],"nice":false,"zero":false},"axis":null}},
"layer":[
{"data":{"name":"spike1"},"mark":{"type":"rule","color":"#1474c0","strokeWidth":2.2},"encoding":{"y2":{"field":"a2"}}},
{"data":{"name":"band1"},"mark":{"type":"area","color":"#0b70bd","opacity":1},"encoding":{"y2":{"field":"a2"}}},
{"data":{"name":"faint1"},"mark":{"type":"rule","color":"#b5b5b5","strokeWidth":1},"encoding":{"x2":{"field":"t2"},"y2":{"field":"a2"}}},
{"data":{"name":"core1"},"mark":{"type":"area","color":"#2483cc","opacity":0.6},"encoding":{"y2":{"field":"a2"}}},
{"data":{"name":"zoom1"},"mark":{"type":"line","color":"#2483cc","strokeWidth":1.8},"encoding":{}},
{"data":{"values":[{"t":16,"a":99,"a2":183}]},"mark":{"type":"rule","color":"#000","strokeWidth":6},"encoding":{"y2":{"field":"a2"}}},
{"data":{"values":[{"t":114,"t2":153,"a":99,"a2":219}]},"mark":{"type":"rect","filled":false,"stroke":"#000","strokeWidth":4},"encoding":{"x2":{"field":"t2"},"y2":{"field":"a2"}}},
{"data":{"values":[{"t":114,"t2":17,"a":219,"a2":375},{"t":153,"t2":490,"a":219,"a2":369}]},"mark":{"type":"rule","color":"#000","strokeWidth":4},"encoding":{"x2":{"field":"t2"},"y2":{"field":"a2"}}},
{"data":{"values":[{"t":25,"a":28,"label":"No Stimulation No Contraction."}]},"mark":{"type":"text","align":"left","baseline":"alphabetic","font":"Open Sans","fontSize":35.4,"fontWeight":300,"color":"#222"},"encoding":{"text":{"field":"label"}}}
]},
{"width":458,"height":590,
"encoding":{"x":{"field":"t","type":"quantitative","scale":{"domain":[502,960],"nice":false,"zero":false},"axis":null},"y":{"field":"a","type":"quantitative","scale":{"domain":[590,0],"nice":false,"zero":false},"axis":null}},
"layer":[
{"data":{"name":"spike2"},"mark":{"type":"rule","color":"#1f7bc5","strokeWidth":3},"encoding":{"y2":{"field":"a2"}}},
{"data":{"name":"band2"},"mark":{"type":"area","color":"#0b70bd"},"encoding":{"y2":{"field":"a2"}}},
{"data":{"name":"zoom2"},"mark":{"type":"line","color":"#1b78c4","strokeWidth":1.7},"encoding":{}},
{"data":{"values":[{"t":586,"t2":627,"a":95,"a2":216}]},"mark":{"type":"rect","filled":false,"stroke":"#000","strokeWidth":4},"encoding":{"x2":{"field":"t2"},"y2":{"field":"a2"}}},
{"data":{"values":[{"t":592,"t2":507,"a":216,"a2":363},{"t":627,"t2":938,"a":216,"a2":333}]},"mark":{"type":"rule","color":"#000","strokeWidth":4},"encoding":{"x2":{"field":"t2"},"y2":{"field":"a2"}}},
{"data":{"values":[{"t":538,"a":28,"label":"No Stimulation Contraction"}]},"mark":{"type":"text","align":"left","baseline":"alphabetic","font":"Open Sans","fontSize":35,"fontWeight":300,"color":"#222"},"encoding":{"text":{"field":"label"}}}
]},
{"width":470,"height":590,
"encoding":{"x":{"field":"t","type":"quantitative","scale":{"domain":[960,1430],"nice":false,"zero":false},"axis":null},"y":{"field":"a","type":"quantitative","scale":{"domain":[590,0],"nice":false,"zero":false},"axis":null}},
"layer":[
{"data":{"name":"band3"},"mark":{"type":"area","color":"#0b70bd"},"encoding":{"y2":{"field":"a2"}}},
{"data":{"name":"spike3"},"mark":{"type":"rule","color":"#74b2e4","strokeWidth":3},"encoding":{"y2":{"field":"a2"}}},
{"data":{"name":"faint3"},"mark":{"type":"rule","color":"#b5b5b5","strokeWidth":1.2},"encoding":{"x2":{"field":"t2"},"y2":{"field":"a2"}}},
{"data":{"name":"pulse3"},"mark":{"type":"rule","color":"#0f72c2","strokeWidth":2.6},"encoding":{"y2":{"field":"a2"}}},
{"data":{"name":"low3"},"mark":{"type":"rule","color":"#0f72c2","strokeWidth":5},"encoding":{"y2":{"field":"a2"}}},
{"data":{"name":"zoom3"},"mark":{"type":"line","color":"#2483cc","strokeWidth":1.8},"encoding":{}},
{"data":{"values":[{"t":1117,"t2":1156,"a":80,"a2":200}]},"mark":{"type":"rect","filled":false,"stroke":"#000","strokeWidth":4},"encoding":{"x2":{"field":"t2"},"y2":{"field":"a2"}}},
{"data":{"values":[{"t":1117,"t2":965,"a":200,"a2":358},{"t":1156,"t2":1402,"a":200,"a2":333}]},"mark":{"type":"rule","color":"#000","strokeWidth":4},"encoding":{"x2":{"field":"t2"},"y2":{"field":"a2"}}},
{"data":{"values":[{"t":983,"a":28,"label":"Stimulation No Contraction"}]},"mark":{"type":"text","align":"left","baseline":"alphabetic","font":"Open Sans","fontSize":35.2,"fontWeight":300,"color":"#222"},"encoding":{"text":{"field":"label"}}}
]},
{"width":420,"height":590,
"encoding":{"x":{"field":"t","type":"quantitative","scale":{"domain":[1430,1850],"nice":false,"zero":false},"axis":null},"y":{"field":"a","type":"quantitative","scale":{"domain":[590,0],"nice":false,"zero":false},"axis":null}},
"layer":[
{"data":{"name":"band4"},"mark":{"type":"area","color":"#0b70bd"},"encoding":{"y2":{"field":"a2"}}},
{"data":{"name":"spike4"},"mark":{"type":"rule","color":"#2a80c9","strokeWidth":1.3},"encoding":{"y2":{"field":"a2"}}},
{"data":{"name":"pulse4"},"mark":{"type":"rule","color":"#0f72c2","strokeWidth":2.8},"encoding":{"y2":{"field":"a2"}}},
{"data":{"name":"low4"},"mark":{"type":"rule","color":"#0f72c2","strokeWidth":5},"encoding":{"y2":{"field":"a2"}}},
{"data":{"name":"zoom4"},"mark":{"type":"line","color":"#2483cc","strokeWidth":1.8},"encoding":{}},
{"data":{"values":[{"t":1509,"t2":1549,"a":71,"a2":190}]},"mark":{"type":"rect","filled":false,"stroke":"#000","strokeWidth":4},"encoding":{"x2":{"field":"t2"},"y2":{"field":"a2"}}},
{"data":{"values":[{"t":1509,"t2":1444,"a":190,"a2":357},{"t":1549,"t2":1838,"a":190,"a2":333}]},"mark":{"type":"rule","color":"#000","strokeWidth":4},"encoding":{"x2":{"field":"t2"},"y2":{"field":"a2"}}},
{"data":{"values":[{"t":1438,"a":28,"label":"Stimulation Contraction."}]},"mark":{"type":"text","align":"left","baseline":"alphabetic","font":"Open Sans","fontSize":32.2,"fontWeight":300,"color":"#222"},"encoding":{"text":{"field":"label"}}}
]},
{"width":502,"height":371,
"encoding":{"x":{"field":"f","type":"quantitative","scale":{"domain":[-10.46,53.98],"nice":false,"zero":false},"axis":{"values":[0,10,20,30,40,50],"title":null,"grid":false,"ticks":false,"domain":false,"offset":-85,"labelPadding":14,"labelFont":"Open Sans","labelFontSize":16,"labelColor":"#6e6e6e","labelOverlap":false,"labelFlush":false}},"y":{"field":"c","type":"quantitative","scale":{"domain":[-0.2566,0.8634],"nice":false,"zero":false},"axis":{"values":[0,0.1,0.2,0.3,0.4,0.5,0.6,0.7,0.8],"format":".1~f","title":"Coherence","titleFont":"Open Sans","titleFontSize":29.5,"titleFontWeight":400,"titleColor":"#111","titleX":-65,"titleY":144,"titleBaseline":"middle","grid":false,"ticks":false,"domain":false,"offset":-81.5,"labelPadding":18,"labelFont":"Open Sans","labelFontSize":16,"labelColor":"#6e6e6e","labelOverlap":false,"labelFlush":false}}},
"layer":[
{"data":{"name":"vaxis"},"mark":{"type":"rule","color":"#bdbdbd","strokeWidth":1},"encoding":{"y2":{"field":"c2"}}},
{"data":{"name":"haxis"},"mark":{"type":"rule","color":"#bdbdbd","strokeWidth":1},"encoding":{"x2":{"field":"f2"}}},
{"data":{"name":"sig"},"mark":{"type":"rule","color":"#2f5cb8","strokeWidth":4},"encoding":{"x2":{"field":"f2"}}},
{"data":{"name":"c1"},"mark":{"type":"line","color":"#ed7d31","strokeWidth":5.5,"strokeJoin":"round","strokeCap":"round"},"encoding":{}}
]},
{"width":458,"height":371,
"encoding":{"x":{"field":"f","type":"quantitative","scale":{"domain":[-4.37,54.5],"nice":false,"zero":false},"axis":{"values":[0,10,20,30,40,50],"title":"Frequency (Hz)","titleFont":"Open Sans","titleFontSize":31,"titleFontWeight":400,"titleColor":"#111","titleX":266,"titleY":69,"titleBaseline":"middle","titleAnchor":"middle","titleAlign":"center","grid":false,"ticks":false,"domain":false,"offset":-85,"labelPadding":14,"labelFont":"Open Sans","labelFontSize":16,"labelColor":"#6e6e6e","labelOverlap":false,"labelFlush":false}},"y":{"field":"c","type":"quantitative","scale":{"domain":[-0.2528,0.8506],"nice":false,"zero":false},"axis":{"values":[0,0.1,0.2,0.3,0.4,0.5,0.6,0.7,0.8],"format":".1~f","title":null,"grid":false,"ticks":false,"domain":false,"offset":-34,"labelPadding":16,"labelFont":"Open Sans","labelFontSize":16,"labelColor":"#6e6e6e","labelOverlap":false,"labelFlush":false}}},
"layer":[
{"data":{"name":"vaxis"},"mark":{"type":"rule","color":"#bdbdbd","strokeWidth":1},"encoding":{"y2":{"field":"c2"}}},
{"data":{"name":"haxis"},"mark":{"type":"rule","color":"#bdbdbd","strokeWidth":1},"encoding":{"x2":{"field":"f2"}}},
{"data":{"name":"sig"},"mark":{"type":"rule","color":"#2f5cb8","strokeWidth":4},"encoding":{"x2":{"field":"f2"}}},
{"data":{"name":"c2"},"mark":{"type":"line","color":"#ed7d31","strokeWidth":5.5,"strokeJoin":"round","strokeCap":"round"},"encoding":{}}
]},
{"width":470,"height":371,
"encoding":{"x":{"field":"f","type":"quantitative","scale":{"domain":[-10.37,56.39],"nice":false,"zero":false},"axis":{"values":[0,10,20,30,40,50],"title":null,"grid":false,"ticks":false,"domain":false,"offset":-57,"labelPadding":14,"labelFont":"Open Sans","labelFontSize":16,"labelColor":"#6e6e6e","labelOverlap":false,"labelFlush":false}},"y":{"field":"c","type":"quantitative","scale":{"domain":[-0.1535,0.8458],"nice":false,"zero":false},"axis":{"values":[0,0.1,0.2,0.3,0.4,0.5,0.6,0.7,0.8],"format":".1~f","title":null,"grid":false,"ticks":false,"domain":false,"offset":-73,"labelPadding":15,"labelFont":"Open Sans","labelFontSize":16,"labelColor":"#6e6e6e","labelOverlap":false,"labelFlush":false}}},
"layer":[
{"data":{"name":"vaxis"},"mark":{"type":"rule","color":"#bdbdbd","strokeWidth":1},"encoding":{"y2":{"field":"c2"}}},
{"data":{"name":"haxis"},"mark":{"type":"rule","color":"#bdbdbd","strokeWidth":1},"encoding":{"x2":{"field":"f2"}}},
{"data":{"name":"sig"},"mark":{"type":"rule","color":"#2f5cb8","strokeWidth":4},"encoding":{"x2":{"field":"f2"}}},
{"data":{"name":"arrow3"},"mark":{"type":"area","color":"#4472c4","stroke":"#2f528f","strokeWidth":1},"encoding":{"y2":{"field":"c2"}}},
{"data":{"name":"c3"},"mark":{"type":"line","color":"#ed7d31","strokeWidth":5.5,"strokeJoin":"round","strokeCap":"round"},"encoding":{}}
]},
{"width":420,"height":371,
"encoding":{"x":{"field":"f","type":"quantitative","scale":{"domain":[-9.62,51.6],"nice":false,"zero":false},"axis":{"values":[0,10,20,30,40,50],"title":null,"grid":false,"ticks":false,"domain":false,"offset":-57,"labelPadding":14,"labelFont":"Open Sans","labelFontSize":16,"labelColor":"#6e6e6e","labelOverlap":false,"labelFlush":false}},"y":{"field":"c","type":"quantitative","scale":{"domain":[-0.1535,0.8458],"nice":false,"zero":false},"axis":{"values":[0,0.1,0.2,0.3,0.4,0.5,0.6,0.7,0.8],"format":".1~f","title":null,"grid":false,"ticks":false,"domain":false,"offset":-66,"labelPadding":17,"labelFont":"Open Sans","labelFontSize":16,"labelColor":"#6e6e6e","labelOverlap":false,"labelFlush":false}}},
"layer":[
{"data":{"name":"vaxis"},"mark":{"type":"rule","color":"#bdbdbd","strokeWidth":1},"encoding":{"y2":{"field":"c2"}}},
{"data":{"name":"haxis"},"mark":{"type":"rule","color":"#bdbdbd","strokeWidth":1},"encoding":{"x2":{"field":"f2"}}},
{"data":{"name":"sig"},"mark":{"type":"rule","color":"#2f5cb8","strokeWidth":4},"encoding":{"x2":{"field":"f2"}}},
{"data":{"name":"arrow4"},"mark":{"type":"area","color":"#4472c4","stroke":"#2f528f","strokeWidth":1},"encoding":{"y2":{"field":"c2"}}},
{"data":{"name":"c4"},"mark":{"type":"line","color":"#ed7d31","strokeWidth":5.5,"strokeJoin":"round","strokeCap":"round"},"encoding":{}}
]}
]
}
